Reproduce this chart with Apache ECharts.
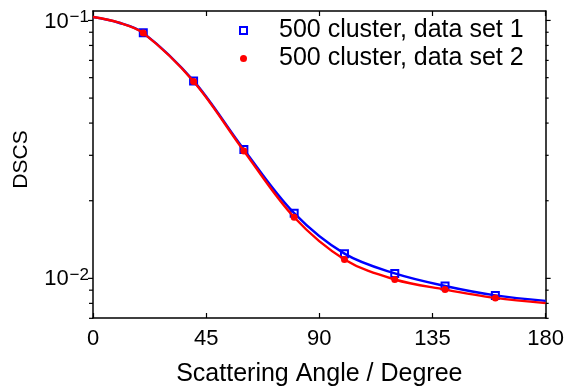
<!DOCTYPE html>
<html>
<head>
<meta charset="utf-8">
<script src="https://cdn.jsdelivr.net/npm/echarts@6/dist/echarts.min.js"></script>
<style>
html,body{margin:0;padding:0;background:#fff;}
#c{width:567px;height:392px;}
</style>
</head>
<body>
<div id="c"></div>
<script>
// ---- data ----
const curveAngles = [0, 10, 20, 40, 60, 80, 100, 120, 140, 160, 180];
const curve1 = [0.1031, 0.0982, 0.0895, 0.0583, 0.0316, 0.0179, 0.01247, 0.01045, 0.00934, 0.00859, 0.00818];
const curve2 = [0.1031, 0.0982, 0.0893, 0.0580, 0.0312, 0.01725, 0.01184, 0.0099, 0.00905, 0.0084, 0.00802];
const markerAngles = [20, 40, 60, 80, 100, 120, 140, 160];
const markers1 = [0.0895, 0.0583, 0.0316, 0.0179, 0.01247, 0.01045, 0.00934, 0.00859];
const markers2 = [0.0893, 0.0580, 0.0312, 0.01725, 0.01184, 0.0099, 0.00905, 0.0084];
const seriesNames = ['500 cluster, data set 1', '500 cluster, data set 2'];
const xTicks = [0, 45, 90, 135, 180];
const yTickValues = [0.007, 0.008, 0.009, 0.01, 0.02, 0.03, 0.04, 0.05, 0.06, 0.07, 0.08, 0.09, 0.1];
const yRange = [0.00702, 0.1088];
const xTitle = 'Scattering Angle / Degree';
const yTitle = 'DSCS';

const FONT = "'Liberation Sans', Arial, Helvetica, sans-serif";
const pair = (xs, ys) => xs.map((x, i) => [x, ys[i]]);
const isDecade = v => Math.abs(Math.log10(v) - Math.round(Math.log10(v))) < 1e-6;

const chart = echarts.init(document.getElementById('c'), null, {renderer: 'canvas'});
const axisLineStyle = {color: '#000', width: 1.5};

chart.setOption({
  animation: false,
  backgroundColor: '#fff',
  textStyle: {fontFamily: FONT},
  grid: {left: 93, right: 20, top: 11, bottom: 72, containLabel: false},
  legend: {
    orient: 'vertical',
    left: 239, top: 18,
    padding: 0,
    itemGap: 3,
    itemWidth: 7, itemHeight: 7,
    data: seriesNames,
    textStyle: {fontFamily: FONT, fontSize: 25, color: '#000', padding: [0, 0, 0, 27]},
    selectedMode: false
  },
  xAxis: [{
    type: 'value', position: 'bottom', min: xTicks[0], max: xTicks[xTicks.length - 1], interval: 45,
    axisLine: {show: true, onZero: false, lineStyle: axisLineStyle},
    axisTick: {show: true, inside: true, length: 5, lineStyle: {color: '#000', width: 1.2}},
    axisLabel: {fontFamily: FONT, fontSize: 22, color: '#000', margin: 10},
    splitLine: {show: false},
    name: xTitle, nameLocation: 'middle', nameGap: 44,
    nameTextStyle: {fontFamily: FONT, fontSize: 25, color: '#000'}
  }, {
    type: 'value', position: 'top', min: xTicks[0], max: xTicks[xTicks.length - 1], interval: 45,
    axisLine: {show: true, onZero: false, lineStyle: axisLineStyle},
    axisTick: {show: true, inside: true, length: 5, lineStyle: {color: '#000', width: 1.2}},
    axisLabel: {show: false},
    splitLine: {show: false}
  }],
  yAxis: [{
    type: 'log', logBase: 10, position: 'left', min: yRange[0], max: yRange[1],
    axisLine: {show: true, onZero: false, lineStyle: axisLineStyle},
    axisTick: {show: false},
    axisLabel: {
      margin: 4,
      formatter: v => isDecade(v) ? '{a|10}{b|\u2212' + Math.abs(Math.round(Math.log10(v))) + '}' : '',
      rich: {
        a: {fontFamily: FONT, fontSize: 22, color: '#000', lineHeight: 24, verticalAlign: 'bottom'},
        b: {fontFamily: FONT, fontSize: 17, color: '#000', lineHeight: 24, verticalAlign: 'top', padding: [0, 0, 8, 1]}
      }
    },
    splitLine: {show: false},
    name: yTitle, nameLocation: 'middle', nameGap: 61, nameRotate: 90,
    nameTextStyle: {fontFamily: FONT, fontSize: 21, color: '#000', padding: [0, 0, 0, 10]}
  }, {
    type: 'log', logBase: 10, position: 'right', min: yRange[0], max: yRange[1],
    axisLine: {show: true, onZero: false, lineStyle: axisLineStyle},
    axisTick: {show: false},
    axisLabel: {show: false},
    splitLine: {show: false}
  }],
  series: [
    {
      type: 'custom', name: 'yticks', xAxisIndex: 0, yAxisIndex: 0, silent: true, clip: false, z: 5,
      data: yTickValues.map(v => [0, v]),
      renderItem: (params, api) => {
        const v = api.value(1);
        const major = isDecade(v);
        const lenL = major ? 5 : 4, lenR = major ? 5 : 3;
        const p = api.coord([0, v]);
        const q = api.coord([180, v]);
        const st = {stroke: '#000', lineWidth: 1.2};
        return {type: 'group', children: [
          {type: 'line', shape: {x1: p[0] - lenL, y1: p[1], x2: p[0], y2: p[1]}, style: st},
          {type: 'line', shape: {x1: q[0], y1: q[1], x2: q[0] + lenR, y2: q[1]}, style: st}
        ]};
      }
    },
    {
      type: 'line', name: 'curve1', data: pair(curveAngles, curve1), smooth: 0.35,
      showSymbol: false, symbol: 'none', lineStyle: {color: '#0000ff', width: 2.4}, z: 2
    },
    {
      type: 'scatter', name: seriesNames[0], data: pair(markerAngles, markers1),
      symbol: 'rect', symbolSize: 7,
      itemStyle: {color: 'rgba(255,255,255,0)', borderColor: '#0000ff', borderWidth: 2, opacity: 1}, z: 3
    },
    {
      type: 'line', name: 'curve2', data: pair(curveAngles, curve2), smooth: 0.35,
      showSymbol: false, symbol: 'none', lineStyle: {color: '#ff0000', width: 2.4}, z: 4
    },
    {
      type: 'scatter', name: seriesNames[1], data: pair(markerAngles, markers2),
      symbol: 'circle', symbolSize: 7,
      itemStyle: {color: '#ff0000', opacity: 1}, z: 4
    }
  ]
});
</script>
</body>
</html>
